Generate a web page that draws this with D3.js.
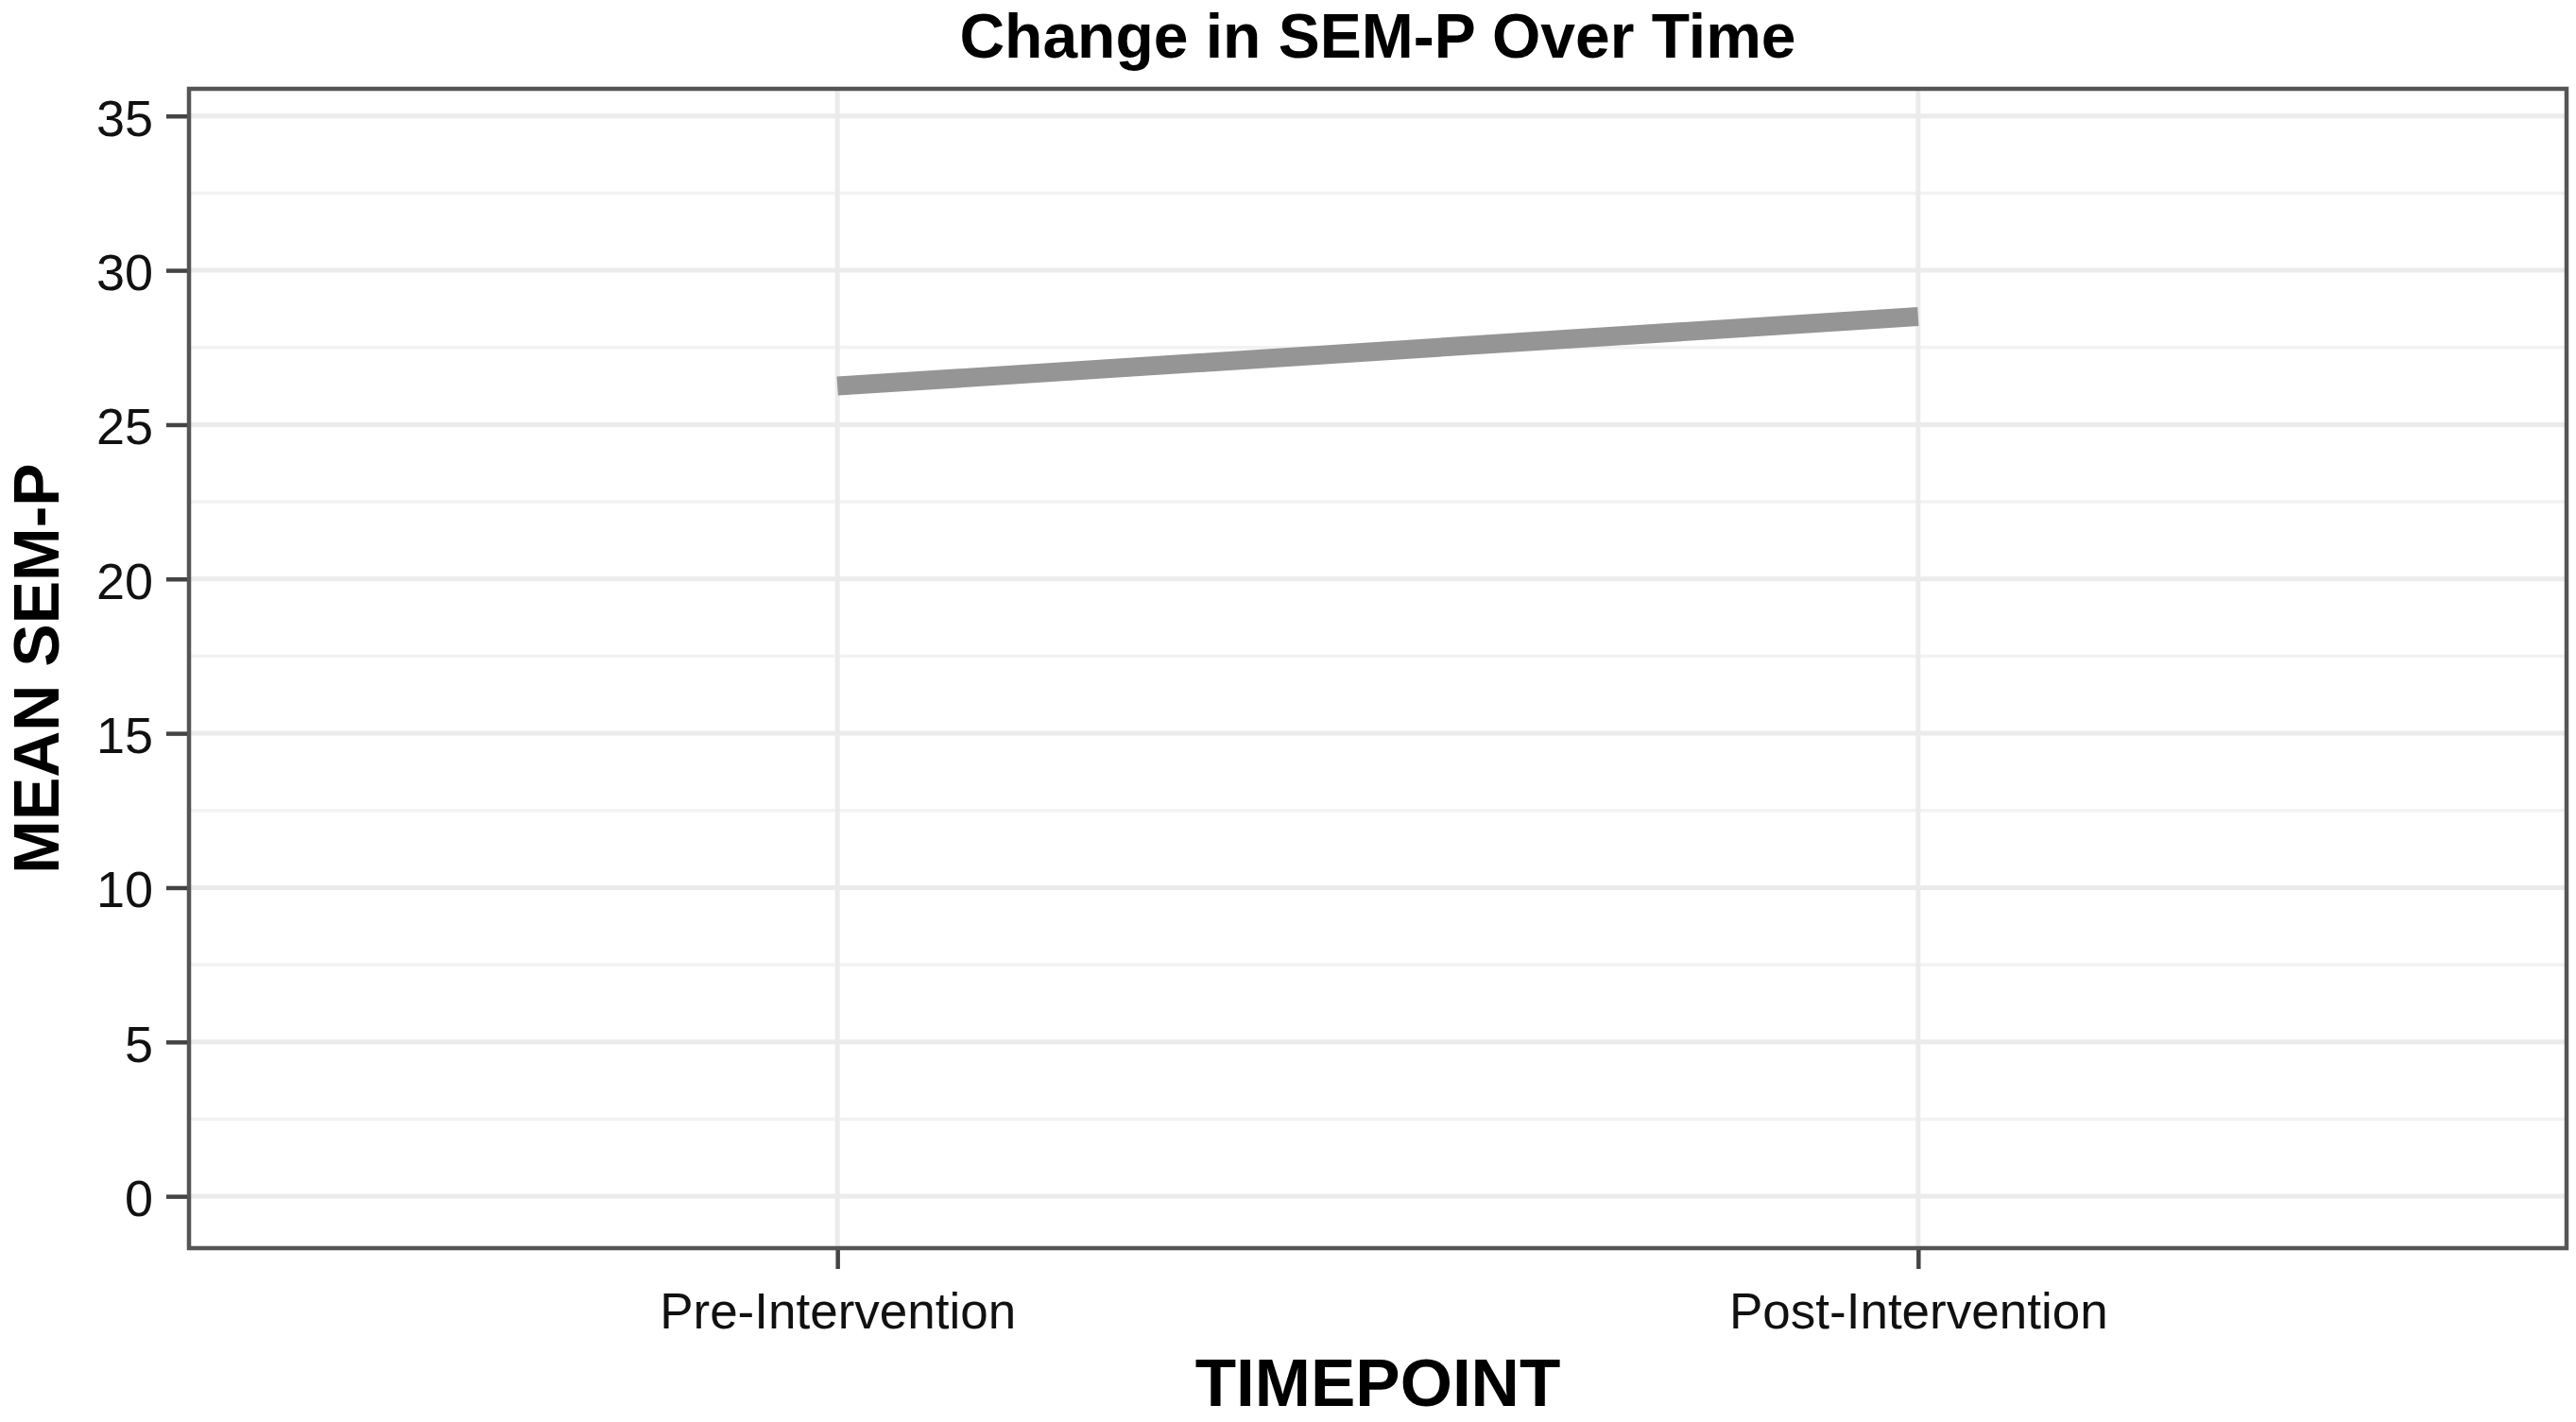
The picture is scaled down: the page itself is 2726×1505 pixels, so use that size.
<!DOCTYPE html>
<html>
<head>
<meta charset="utf-8">
<script src="https://cdn.jsdelivr.net/npm/d3@7"></script>
<style>
  html, body { margin: 0; padding: 0; background: #ffffff; }
  svg { display: block; font-family: "Liberation Sans", Arial, sans-serif; }
</style>
</head>
<body>
<svg id="chart" width="2726" height="1505"></svg>
<script>
// ---- data ----
const categories = ["Pre-Intervention", "Post-Intervention"];
const meanValues = [26.25, 28.5];
const yTicks = [0, 5, 10, 15, 20, 25, 30, 35];
const yMinorTicks = [2.5, 7.5, 12.5, 17.5, 22.5, 27.5, 32.5];
const chartTitle = "Change in SEM-P Over Time";
const xTitle = "TIMEPOINT";
const yTitle = "MEAN SEM-P";

(function () {
  // ---- layout ----
  const W = 2726, H = 1505;
  const pL = 200, pT = 94, pR = 2716, pB = 1321;

  const svg = d3.select("#chart");
  svg.append("rect").attr("width", W).attr("height", H).attr("fill", "#ffffff");

  const y = d3.scaleLinear().domain([-1.68, 35.88]).range([pB, pT]);
  // point scale: outer padding 0.6 step, like ggplot's discrete expansion
  const x = d3.scalePoint().domain(categories).range([pL, pR]).padding(0.6);

  // minor grid
  svg.append("g").selectAll("line").data(yMinorTicks).join("line")
    .attr("x1", pL).attr("x2", pR)
    .attr("y1", d => y(d)).attr("y2", d => y(d))
    .attr("stroke", "#f2f2f2").attr("stroke-width", 3.5);

  // major grid (horizontal)
  svg.append("g").selectAll("line").data(yTicks).join("line")
    .attr("x1", pL).attr("x2", pR)
    .attr("y1", d => y(d)).attr("y2", d => y(d))
    .attr("stroke", "#ebebeb").attr("stroke-width", 5);

  // major grid (vertical)
  svg.append("g").selectAll("line").data(categories).join("line")
    .attr("x1", d => x(d)).attr("x2", d => x(d))
    .attr("y1", pT).attr("y2", pB)
    .attr("stroke", "#ebebeb").attr("stroke-width", 5);

  // data line
  const pts = categories.map((c, i) => [x(c), y(meanValues[i])]);
  svg.append("path")
    .attr("d", d3.line()(pts))
    .attr("fill", "none")
    .attr("stroke", "#959595")
    .attr("stroke-width", 20)
    .attr("stroke-linecap", "butt");

  // panel border
  svg.append("rect").attr("x", pL).attr("y", pT)
    .attr("width", pR - pL).attr("height", pB - pT)
    .attr("fill", "none").attr("stroke", "#555555").attr("stroke-width", 4.5);

  // y axis
  const yAxis = d3.axisLeft(y).tickValues(yTicks).tickSize(22).tickPadding(14).tickFormat(d3.format("d"));
  const gy = svg.append("g").attr("transform", `translate(${pL - 2},0)`).call(yAxis);
  gy.select(".domain").remove();
  gy.selectAll(".tick line").attr("stroke", "#444444").attr("stroke-width", 4.5);
  gy.selectAll(".tick text")
    .attr("fill", "#111111")
    .attr("font-size", 54)
    .attr("font-family", "'Liberation Sans', Arial, sans-serif")
    .attr("dy", "0.38em");

  // x axis
  const xAxis = d3.axisBottom(x).tickSize(20).tickPadding(25);
  const gx = svg.append("g").attr("transform", `translate(0,${pB + 2})`).call(xAxis);
  gx.select(".domain").remove();
  gx.selectAll(".tick line").attr("stroke", "#444444").attr("stroke-width", 4.5);
  gx.selectAll(".tick text")
    .attr("fill", "#111111")
    .attr("font-size", 53)
    .attr("font-family", "'Liberation Sans', Arial, sans-serif")
    .attr("dy", "0.72em");

  // titles
  svg.append("text")
    .attr("x", (pL + pR) / 2).attr("y", 61)
    .attr("text-anchor", "middle")
    .attr("font-size", 66).attr("font-weight", "bold").attr("fill", "#000")
    .text(chartTitle);

  svg.append("text")
    .attr("x", (pL + pR) / 2).attr("y", 1488)
    .attr("text-anchor", "middle")
    .attr("font-size", 71).attr("font-weight", "bold").attr("fill", "#000")
    .text(xTitle);

  svg.append("text")
    .attr("transform", `translate(62,${(pT + pB) / 2}) rotate(-90)`)
    .attr("text-anchor", "middle")
    .attr("font-size", 68).attr("font-weight", "bold").attr("fill", "#000")
    .text(yTitle);
})();
</script>
</body>
</html>
